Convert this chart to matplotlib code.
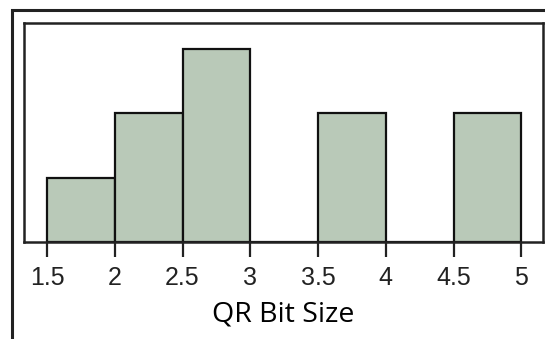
import matplotlib.pyplot as plt
from matplotlib.patches import Rectangle

# histogram bins and counts
bin_left = [1.5, 2.0, 2.5, 3.0, 3.5, 4.0, 4.5]
counts = [1, 2, 3, 0, 2, 0, 2]
bin_width = 0.5
tick_vals = [1.5, 2, 2.5, 3, 3.5, 4, 4.5, 5]
tick_labels = ['1.5', '2', '2.5', '3', '3.5', '4', '4.5', '5']

W, H = 545, 339
fig = plt.figure(figsize=(W / 100, H / 100), dpi=100)

# outer frame (only left and top visible)
fig.patches.append(Rectangle((12 / W, -0.2), 1.5, 1 - 10 / H + 0.2,
                             transform=fig.transFigure, fill=False,
                             edgecolor='#222222', linewidth=2.2))

ax = fig.add_axes([24 / W, 1 - 242 / H, (543 - 24) / W, (242 - 23) / H])
ax.bar(bin_left, counts, width=bin_width, align='edge',
       color='#b9c9b8', edgecolor='#111111', linewidth=1.6)

ax.set_xlim(1.33, 5.16)
ax.set_ylim(0, 3.4)
ax.set_yticks([])
ax.set_xticks(tick_vals)
ax.set_xticklabels(tick_labels)
ax.tick_params(axis='x', direction='out', length=11, width=1.6, pad=6,
               color='#222222', labelsize=18, labelcolor='#222222',
               labelfontfamily='Liberation Sans')
for s in ax.spines.values():
    s.set_linewidth(1.8)
    s.set_color('#222222')

ax.set_xlabel('QR Bit Size', fontsize=20.5, family='Open Sans', labelpad=8)

fig.savefig('out.png', dpi=100)
